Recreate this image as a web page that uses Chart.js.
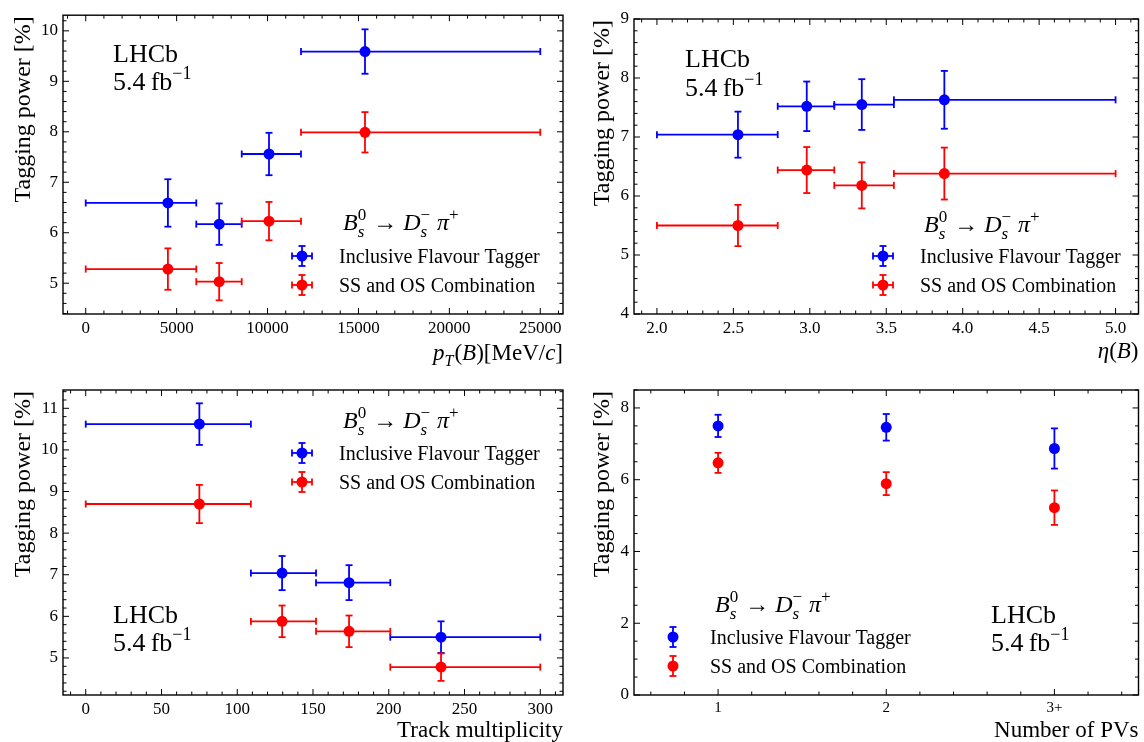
<!DOCTYPE html>
<html>
<head>
<meta charset="utf-8">
<script src="https://cdn.jsdelivr.net/npm/chart.js@4.4.1/dist/chart.umd.min.js"></script>
<style>
  html, body { margin: 0; padding: 0; background: #fff; width: 1144px; height: 742px; overflow: hidden; position: relative; }
  canvas { position: absolute; }
</style>
</head>
<body>
<canvas id="c1" width="572" height="371" style="left:0;top:0"></canvas>
<canvas id="c2" width="572" height="371" style="left:572px;top:0"></canvas>
<canvas id="c3" width="572" height="371" style="left:0;top:371px"></canvas>
<canvas id="c4" width="572" height="371" style="left:572px;top:371px"></canvas>
<script>
// ---- pT(B) bins ----
var ptLow = [0, 6080, 8580, 11840];
var ptHigh = [6080, 8580, 11840, 25000];
var ptCenter = [4520, 7340, 10080, 15360];
var ptIft = [6.59, 6.17, 7.56, 9.59];
var ptIftErr = [0.47, 0.41, 0.42, 0.44];
var ptCombo = [5.28, 5.03, 6.23, 7.99];
var ptComboErr = [0.41, 0.37, 0.38, 0.40];
var ptTicks = [0, 5000, 10000, 15000, 20000, 25000];
var ptTickLabels = ['0', '5000', '10000', '15000', '20000', '25000'];
var ptPowerTicks = [5, 6, 7, 8, 9, 10];

// ---- eta(B) bins ----
var etaLow = [2.0, 2.79, 3.16, 3.55];
var etaHigh = [2.79, 3.16, 3.55, 5.0];
var etaCenter = [2.53, 2.98, 3.34, 3.88];
var etaIft = [7.04, 7.52, 7.55, 7.63];
var etaIftErr = [0.39, 0.42, 0.43, 0.49];
var etaCombo = [5.50, 6.44, 6.18, 6.38];
var etaComboErr = [0.35, 0.39, 0.39, 0.44];
var etaTicks = [2.0, 2.5, 3.0, 3.5, 4.0, 4.5, 5.0];
var etaTickLabels = ['2.0', '2.5', '3.0', '3.5', '4.0', '4.5', '5.0'];
var etaPowerTicks = [4, 5, 6, 7, 8, 9];

// ---- track multiplicity bins ----
var trkLow = [0, 109, 152, 201];
var trkHigh = [109, 152, 201, 300];
var trkCenter = [75, 129.6, 173.8, 234.5];
var trkIft = [10.62, 7.04, 6.81, 5.50];
var trkIftErr = [0.50, 0.41, 0.42, 0.38];
var trkCombo = [8.70, 5.88, 5.64, 4.78];
var trkComboErr = [0.46, 0.38, 0.38, 0.33];
var trkTicks = [0, 50, 100, 150, 200, 250, 300];
var trkTickLabels = ['0', '50', '100', '150', '200', '250', '300'];
var trkPowerTicks = [5, 6, 7, 8, 9, 10, 11];

// ---- number of PVs ----
var pvCenter = [1, 2, 3];
var pvTickLabels = ['1', '2', '3+'];
var pvIft = [7.50, 7.46, 6.87];
var pvIftErr = [0.31, 0.37, 0.56];
var pvCombo = [6.47, 5.89, 5.22];
var pvComboErr = [0.28, 0.32, 0.48];
var pvPowerTicks = [0, 2, 4, 6, 8];

var BLUE = '#0000ff', RED = '#ff0000';
var FONT = '"Liberation Serif", "Times New Roman", serif';
var W = 572, H = 371;

function pts(xs, ys) {
  return xs.map(function (x, i) { return { x: x, y: ys[i] }; });
}

function segFont(size, italic) {
  return (italic ? 'italic ' : '') + size + 'px ' + FONT;
}

// small rich-text helper for the LaTeX-ish labels
function drawRich(ctx, segs, x, y, size, align) {
  var w = 0, items = [];
  segs.forEach(function (s) {
    if (s.sub !== undefined || s.sup !== undefined) {
      var ss = Math.round(size * 0.7);
      ctx.font = segFont(ss, true);
      var w1 = s.sub ? ctx.measureText(s.sub).width : 0;
      ctx.font = segFont(ss, false);
      var w2 = s.sup ? ctx.measureText(s.sup).width : 0;
      items.push({ x: w, s: s, ss: ss });
      w += Math.max(w1, w2) + 1;
    } else {
      ctx.font = segFont(size, s.i);
      items.push({ x: w, s: s });
      w += ctx.measureText(s.t).width;
    }
  });
  var x0 = align === 'right' ? x - w : x;
  ctx.textAlign = 'left';
  ctx.textBaseline = 'alphabetic';
  ctx.fillStyle = '#000';
  items.forEach(function (it) {
    var s = it.s;
    if (it.ss) {
      if (s.sub) { ctx.font = segFont(it.ss, true); ctx.fillText(s.sub, x0 + it.x, y + size * 0.28); }
      if (s.sup) { ctx.font = segFont(it.ss, false); ctx.fillText(s.sup, x0 + it.x, y - size * 0.42); }
    } else {
      ctx.font = segFont(size, s.i);
      ctx.fillText(s.t, x0 + it.x, y);
    }
  });
}

var decaySegs = [
  { t: 'B', i: true }, { sub: 's', sup: '0' }, { t: ' \u2192 ' },
  { t: 'D', i: true }, { sub: 's', sup: '\u2212' }, { t: ' \u03c0', i: true }, { sup: '+' }
];
var lumiSegs = [{ t: '5.4\u2009fb' }, { sup: '\u22121' }];

function line(ctx, x1, y1, x2, y2) {
  ctx.beginPath(); ctx.moveTo(x1, y1); ctx.lineTo(x2, y2); ctx.stroke();
}

var errorBarPlugin = {
  id: 'errorBars',
  beforeDatasetsDraw: function (chart) {
    var ctx = chart.ctx, xs = chart.scales.x, ys = chart.scales.y, cap = 3.5;
    chart.data.datasets.forEach(function (ds) {
      ctx.save();
      ctx.strokeStyle = ds.backgroundColor;
      ctx.lineWidth = 1.8;
      ds.data.forEach(function (p, i) {
        var px = xs.getPixelForValue(p.x), py = ys.getPixelForValue(p.y);
        var t = ys.getPixelForValue(p.y + ds.errY[i]), b = ys.getPixelForValue(p.y - ds.errY[i]);
        line(ctx, px, t, px, b);
        line(ctx, px - cap, t, px + cap, t);
        line(ctx, px - cap, b, px + cap, b);
        if (ds.xLo) {
          var l = xs.getPixelForValue(ds.xLo[i]), r = xs.getPixelForValue(ds.xHi[i]);
          line(ctx, l, py, r, py);
          line(ctx, l, py - cap, l, py + cap);
          line(ctx, r, py - cap, r, py + cap);
        }
      });
      ctx.restore();
    });
  }
};

function minorVals(min, max, step, majors) {
  var out = [];
  for (var k = Math.ceil(min / step - 1e-9); k * step <= max + 1e-9; k++) {
    var v = k * step;
    if (!majors.some(function (m) { return Math.abs(m - v) < step * 1e-3; })) out.push(v);
  }
  return out;
}

function makeDecor(p) {
  return {
    id: 'decor',
    afterDraw: function (chart) {
      var ctx = chart.ctx, a = chart.chartArea, xs = chart.scales.x, ys = chart.scales.y;
      ctx.save();
      ctx.strokeStyle = '#000';
      // ticks on all four sides, pointing in
      ctx.lineWidth = 1;
      function xt(v, len) { var x = xs.getPixelForValue(v); line(ctx, x, a.bottom, x, a.bottom - len); line(ctx, x, a.top, x, a.top + len); }
      function yt(v, len) { var y = ys.getPixelForValue(v); line(ctx, a.left, y, a.left + len, y); line(ctx, a.right, y, a.right - len, y); }
      p.xTicks.forEach(function (v) { xt(v, 6); });
      minorVals(p.xMin, p.xMax, p.xMinor, p.xTicks).forEach(function (v) { xt(v, 3.5); });
      p.yTicks.forEach(function (v) { yt(v, 6); });
      minorVals(p.yMin, p.yMax, p.yMinor, p.yTicks).forEach(function (v) { yt(v, 3.5); });
      // frame
      ctx.lineWidth = 1.4;
      ctx.strokeRect(a.left, a.top, a.right - a.left, a.bottom - a.top);

      // y title
      ctx.save();
      ctx.translate(p.yTitleX, a.top + 1);
      ctx.rotate(-Math.PI / 2);
      ctx.font = segFont(24, false);
      ctx.fillStyle = '#000';
      ctx.textAlign = 'right';
      ctx.textBaseline = 'middle';
      ctx.fillText('Tagging power [%]', 0, 0);
      ctx.restore();

      // x title
      drawRich(ctx, p.xTitle, a.right, p.xTitleY, 23, 'right');

      // LHCb label
      ctx.font = segFont(26, false);
      ctx.fillStyle = '#000';
      ctx.textAlign = 'left';
      ctx.textBaseline = 'alphabetic';
      ctx.fillText('LHCb', p.lhcb[0], p.lhcb[1]);
      drawRich(ctx, lumiSegs, p.lhcb[0], p.lhcb[2], 26, 'left');

      // legend
      var L = p.legend;
      drawRich(ctx, decaySegs, L.dx, L.dy, 24, 'left');
      [BLUE, RED].forEach(function (c, k) {
        var mx = L.mx, my = L.my[k];
        ctx.strokeStyle = c; ctx.fillStyle = c; ctx.lineWidth = 1.8;
        line(ctx, mx, my - 10, mx, my + 10);
        line(ctx, mx - 3.5, my - 10, mx + 3.5, my - 10);
        line(ctx, mx - 3.5, my + 10, mx + 3.5, my + 10);
        if (L.xerr) {
          line(ctx, mx - 10, my, mx + 10, my);
          line(ctx, mx - 10, my - 3.5, mx - 10, my + 3.5);
          line(ctx, mx + 10, my - 3.5, mx + 10, my + 3.5);
        }
        ctx.beginPath(); ctx.arc(mx, my, 5.5, 0, Math.PI * 2); ctx.fill();
      });
      ctx.fillStyle = '#000';
      ctx.font = segFont(20, false);
      ctx.textAlign = 'left';
      ctx.textBaseline = 'alphabetic';
      ctx.fillText('Inclusive Flavour Tagger', L.tx, L.ty[0]);
      ctx.fillText('SS and OS Combination', L.tx, L.ty[1]);
      ctx.restore();
    }
  };
}

function makePanel(id, p) {
  var tickFont = { family: FONT, size: 17 };
  return new Chart(document.getElementById(id), {
    type: 'scatter',
    data: {
      datasets: [
        { label: 'Inclusive Flavour Tagger', data: pts(p.x, p.ift), errY: p.iftErr, xLo: p.xLo, xHi: p.xHi,
          backgroundColor: BLUE, borderColor: BLUE, pointRadius: 5.5, borderWidth: 0 },
        { label: 'SS and OS Combination', data: pts(p.x, p.combo), errY: p.comboErr, xLo: p.xLo, xHi: p.xHi,
          backgroundColor: RED, borderColor: RED, pointRadius: 5.5, borderWidth: 0 }
      ]
    },
    options: {
      responsive: false,
      animation: false,
      devicePixelRatio: 1,
      layout: { padding: { top: p.area.top, right: W - p.area.right, left: 0, bottom: 0 } },
      plugins: { legend: { display: false }, tooltip: { enabled: false } },
      scales: {
        x: {
          type: 'linear', min: p.xMin, max: p.xMax,
          grid: { display: false, drawTicks: false }, border: { display: false },
          afterBuildTicks: function (s) { s.ticks = p.xTicks.map(function (v) { return { value: v }; }); },
          afterFit: function (s) { s.height = H - p.area.bottom; },
          ticks: { font: { family: FONT, size: p.xTickSize || 17 }, color: '#000', padding: 4, maxRotation: 0, autoSkip: false,
            callback: function (v) { return p.xTickLabels[p.xTicks.indexOf(v)]; } }
        },
        y: {
          type: 'linear', min: p.yMin, max: p.yMax,
          grid: { display: false, drawTicks: false }, border: { display: false },
          afterBuildTicks: function (s) { s.ticks = p.yTicks.map(function (v) { return { value: v }; }); },
          afterFit: function (s) { s.width = p.area.left; },
          ticks: { font: tickFont, color: '#000', padding: 5, autoSkip: false,
            callback: function (v) { return String(v); } }
        }
      }
    },
    plugins: [errorBarPlugin, makeDecor(p)]
  });
}

makePanel('c1', {
  x: ptCenter, xLo: ptLow, xHi: ptHigh, ift: ptIft, iftErr: ptIftErr, combo: ptCombo, comboErr: ptComboErr,
  xMin: -1250, xMax: 26250, xTicks: ptTicks, xTickLabels: ptTickLabels, xMinor: 1000,
  yMin: 4.39, yMax: 10.31, yTicks: ptPowerTicks, yMinor: 0.2,
  area: { left: 63, right: 563, top: 12, bottom: 314 },
  yTitleX: 24, xTitleY: 360,
  xTitle: [{ t: 'p', i: true }, { sub: 'T' }, { t: '(' }, { t: 'B', i: true }, { t: ')[MeV/' }, { t: 'c', i: true }, { t: ']' }],
  lhcb: [113, 62, 90],
  legend: { dx: 343, dy: 230, mx: 302, my: [256, 285], tx: 339, ty: [263, 292], xerr: true }
});

makePanel('c2', {
  x: etaCenter, xLo: etaLow, xHi: etaHigh, ift: etaIft, iftErr: etaIftErr, combo: etaCombo, comboErr: etaComboErr,
  xMin: 1.85, xMax: 5.15, xTicks: etaTicks, xTickLabels: etaTickLabels, xMinor: 0.1,
  yMin: 4, yMax: 9, yTicks: etaPowerTicks, yMinor: 0.2,
  area: { left: 62, right: 570, top: 19, bottom: 314 },
  yTitleX: 31, xTitleY: 358,
  xTitle: [{ t: '\u03b7', i: true }, { t: '(' }, { t: 'B', i: true }, { t: ')' }],
  lhcb: [113, 67, 96],
  legend: { dx: 352, dy: 232, mx: 311, my: [256, 285], tx: 348, ty: [263, 292], xerr: true }
});

makePanel('c3', {
  x: trkCenter, xLo: trkLow, xHi: trkHigh, ift: trkIft, iftErr: trkIftErr, combo: trkCombo, comboErr: trkComboErr,
  xMin: -15, xMax: 315, xTicks: trkTicks, xTickLabels: trkTickLabels, xMinor: 10,
  yMin: 4.11, yMax: 11.44, yTicks: trkPowerTicks, yMinor: 0.2,
  area: { left: 63, right: 563, top: 19, bottom: 324 },
  yTitleX: 24, xTitleY: 366,
  xTitle: [{ t: 'Track multiplicity' }],
  lhcb: [113, 252, 280],
  legend: { dx: 343, dy: 57, mx: 302, my: [82, 111], tx: 339, ty: [89, 118], xerr: true }
});

makePanel('c4', {
  x: pvCenter, ift: pvIft, iftErr: pvIftErr, combo: pvCombo, comboErr: pvComboErr,
  xMin: 0.5, xMax: 3.5, xTicks: pvCenter, xTickLabels: pvTickLabels, xMinor: 0.2, xTickSize: 15,
  yMin: 0, yMax: 8.5, yTicks: pvPowerTicks, yMinor: 0.5,
  area: { left: 62, right: 570, top: 19, bottom: 324 },
  yTitleX: 31, xTitleY: 366,
  xTitle: [{ t: 'Number of PVs' }],
  lhcb: [419, 252, 280],
  legend: { dx: 143, dy: 241, mx: 101, my: [266, 295], tx: 138, ty: [273, 302], xerr: false }
});
</script>
</body>
</html>
